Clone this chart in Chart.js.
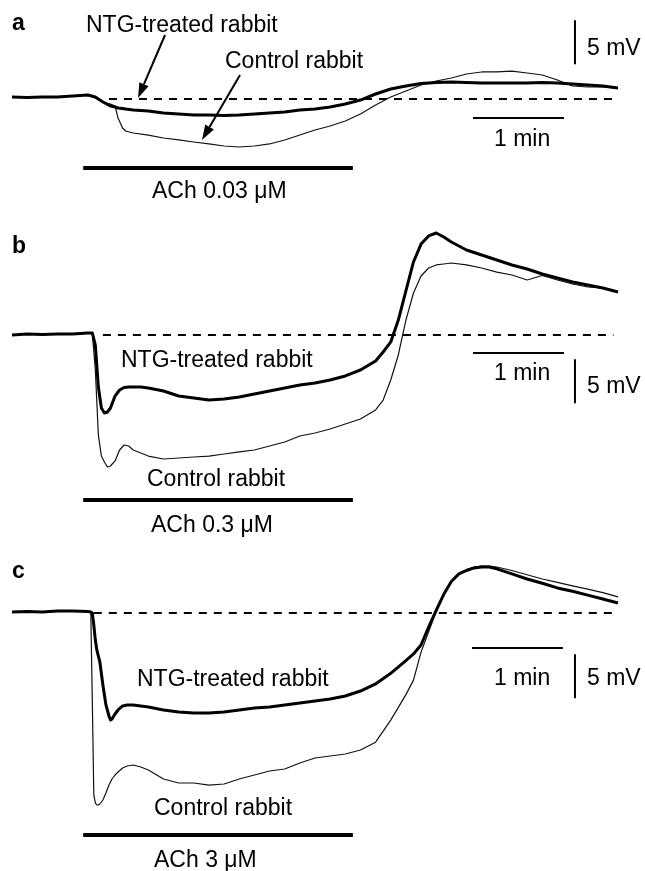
<!DOCTYPE html>
<html><head><meta charset="utf-8">
<script src="https://cdn.jsdelivr.net/npm/chart.js@4/dist/chart.umd.min.js"></script>
<style>
html,body{margin:0;padding:0;background:#fff;}
#wrap{position:relative;width:645px;height:871px;overflow:hidden;}
#c{position:absolute;left:0;top:0;}
.t{position:absolute;font-family:"Liberation Sans",Arial,sans-serif;font-size:23px;line-height:23px;color:#000;white-space:nowrap;}
.b{font-weight:bold;}
</style></head><body>
<div id="wrap">
<canvas id="c" width="645" height="871"></canvas>
<div class="t b" style="left:12px;top:10.5px">a</div>
<div class="t" style="left:86px;top:12.5px">NTG-treated rabbit</div>
<div class="t" style="left:225px;top:48.5px">Control rabbit</div>
<div class="t" style="left:152px;top:178.5px">ACh 0.03 μM</div>
<div class="t" style="left:494px;top:126.5px">1 min</div>
<div class="t" style="left:587px;top:35.5px">5 mV</div>
<div class="t b" style="left:12px;top:233.5px">b</div>
<div class="t" style="left:121px;top:347.5px">NTG-treated rabbit</div>
<div class="t" style="left:147px;top:466.5px">Control rabbit</div>
<div class="t" style="left:151px;top:512.5px">ACh 0.3 μM</div>
<div class="t" style="left:494px;top:360.5px">1 min</div>
<div class="t" style="left:587px;top:373.5px">5 mV</div>
<div class="t b" style="left:12px;top:558.5px">c</div>
<div class="t" style="left:137px;top:666.5px">NTG-treated rabbit</div>
<div class="t" style="left:154px;top:795.5px">Control rabbit</div>
<div class="t" style="left:154px;top:847.5px">ACh 3 μM</div>
<div class="t" style="left:494px;top:665.5px">1 min</div>
<div class="t" style="left:587px;top:665.5px">5 mV</div>
</div>
<script>
// ---- Data (time in s, membrane potential change in mV relative to baseline) ----
const timeA = [0,10,20,30,40,50,55,60,65,68,70,73,75,80,90,100,110,120,130,140,150,160,170,180,190,200,210,220,230,240,250,260,270,280,290,300,310,320,330,340,350,360,370,380,390,400];
const ntgA  = [0.24,0.18,0.24,0.24,0.35,0.47,0.24,-0.35,-0.82,-0.94,-1.06,-1.12,-1.18,-1.29,-1.41,-1.65,-1.76,-1.88,-1.88,-1.94,-1.88,-1.76,-1.65,-1.53,-1.29,-1.18,-0.94,-0.59,-0.12,0.59,1.18,1.53,1.82,1.94,2.0,1.94,1.88,1.88,1.88,1.88,1.94,1.88,1.76,1.65,1.53,1.29];
const ctrlA = [0.24,0.24,0.18,0.24,0.35,0.47,0.12,-0.35,-0.59,-0.82,-2.24,-3.41,-3.76,-4.0,-4.24,-4.59,-4.82,-5.06,-5.29,-5.53,-5.65,-5.53,-5.29,-4.82,-4.24,-3.65,-3.18,-2.59,-1.76,-0.71,0.24,0.94,1.65,2.12,2.47,2.94,3.18,3.18,3.29,3.06,2.82,2.24,1.53,1.41,1.41,1.29];

const timeB = [0,10,20,30,40,50,53,55,57,59,61,63,65,68,71,74,77,80,85,90,100,110,120,130,140,150,160,170,180,190,200,210,220,230,240,245,250,255,260,265,270,275,280,285,290,300,310,320,330,340,350,360,370,380,390,400];
const ntgB  = [0,0.12,0.06,0.12,0.12,0.24,0.24,-1.18,-6.12,-8.59,-9.18,-9.06,-8.59,-7.18,-6.47,-6.18,-6.12,-6.12,-6.12,-6.24,-6.59,-7.18,-7.41,-7.65,-7.53,-7.29,-6.94,-6.59,-6.24,-5.88,-5.65,-5.29,-4.82,-4.12,-3.06,-2.0,-0.82,1.76,5.18,8.59,10.7,11.65,12.0,11.53,10.94,10.0,9.41,8.82,8.24,7.76,7.18,6.71,6.24,5.88,5.53,5.06];
const ctrlB = [0,0.12,0.06,0.12,0.12,0.24,0.24,-4.12,-11.76,-14.24,-14.94,-15.53,-15.41,-14.82,-13.53,-12.94,-13.06,-13.53,-13.88,-14.24,-14.59,-14.47,-14.35,-14.24,-14.0,-13.76,-13.53,-13.06,-12.59,-11.88,-11.53,-11.06,-10.47,-9.88,-8.82,-7.65,-5.29,-2.35,1.76,4.94,6.94,7.88,8.24,8.35,8.47,8.24,7.88,7.4,7.06,6.47,7.0,6.47,6.0,5.65,5.53,5.06];

const timeC = [0,10,20,30,40,50,52,53,54,55,56,57,58,60,62,64,65,66,68,70,73,76,80,85,90,100,110,120,130,140,150,160,170,180,190,200,210,220,230,240,250,260,265,270,275,280,285,290,295,300,305,310,315,320,330,340,350,360,370,380,390,400];
const ntgC  = [0.12,0.18,0.12,0.24,0.24,0.18,0.12,0,-1.41,-3.18,-4.35,-5.06,-5.76,-8.47,-10.82,-12.12,-12.59,-12.47,-11.88,-11.41,-10.94,-10.82,-10.82,-10.94,-11.06,-11.41,-11.65,-11.76,-11.76,-11.65,-11.41,-11.18,-11.06,-10.82,-10.59,-10.35,-10.12,-9.76,-9.18,-8.35,-7.1,-5.6,-4.82,-3.76,-1.65,0.3,2.2,3.7,4.6,5.0,5.3,5.41,5.41,5.2,4.6,4.0,3.5,2.95,2.55,2.1,1.65,1.18];
const ctrlC = [0.12,0.18,0.12,0.24,0.24,0.18,0.12,-10.24,-21.41,-22.35,-22.59,-22.59,-22.47,-22.0,-21.18,-20.24,-19.88,-19.53,-19.06,-18.71,-18.24,-18.0,-17.88,-18.12,-18.47,-19.53,-20.0,-20.0,-20.24,-20.12,-19.53,-19.06,-18.59,-18.35,-17.65,-17.06,-16.82,-16.59,-16.12,-15.2,-12.6,-9.6,-7.9,-4.6,-2.2,0.2,2.2,3.75,4.7,5.1,5.41,5.53,5.53,5.41,5.0,4.5,4.0,3.6,3.2,2.8,2.4,1.9];

// ACh application period (s)
const achPeriod = [47, 225];

// ---- Layout / style (not data) ----
const PX_PER_S = 1.515, X0 = 12, W = 645, H = 871, PX_PER_MV = 8.5;
const BASE = {ya: 99, yb: 335, yc: 613};
function yScale(base){ return {type:'linear', display:false, min:(base-H)/PX_PER_MV, max:base/PX_PER_MV}; }

function pts(times, vals){ return times.map((t,i)=>({x:t, y:vals[i]})); }
function ds(data, axis, width, extra){
  return Object.assign({data, yAxisID:axis, borderColor:'#000', borderWidth:width, pointRadius:0,
    fill:false, tension:0, clip:false, borderJoinStyle:'round', borderCapStyle:'butt'}, extra||{});
}
const dash = {borderDash:[8,7]};
const panels = [
  {axis:'ya', t:timeA, ntg:ntgA, ctrl:ctrlA, dashX:[64,399], achY:-8.12, minY:-2.24, minX:304.3, mvX:371.6, mvY:9.18},
  {axis:'yb', t:timeB, ntg:ntgB, ctrl:ctrlB, dashX:[60,397], achY:-19.41, minY:-2.12, minX:304.3, mvX:371.6, mvY:-2.94},
  {axis:'yc', t:timeC, ntg:ntgC, ctrl:ctrlC, dashX:[54,397], achY:-26.12, minY:-4.12, minX:303.6, mvX:371.6, mvY:-4.94}
];
const datasets = [];
for (const p of panels){
  datasets.push(ds(pts(p.t, p.ntg), p.axis, 3));
  datasets.push(ds(pts(p.t, p.ctrl), p.axis, 1.2, {borderColor:'#111'}));
  datasets.push(ds([{x:p.dashX[0],y:0},{x:p.dashX[1],y:0}], p.axis, 1.8, dash));
  datasets.push(ds([{x:achPeriod[0],y:p.achY},{x:achPeriod[1],y:p.achY}], p.axis, 4));
  datasets.push(ds([{x:p.minX,y:p.minY},{x:p.minX+60,y:p.minY}], p.axis, 2));
  datasets.push(ds([{x:p.mvX,y:p.mvY},{x:p.mvX,y:p.mvY-5}], p.axis, 2));
}

// arrows in panel a (data coords)
const ARROWS = [ {from:[101,7.53], to:[83.2,0.12]}, {from:[150.5,2.82], to:[125.4,-4.82]} ];
const arrowPlugin = {
  id:'arrows',
  afterDatasetsDraw(chart){
    const ctx = chart.ctx, xs = chart.scales.x, ys = chart.scales.ya;
    ctx.save(); ctx.strokeStyle='#000'; ctx.fillStyle='#000'; ctx.lineWidth=2;
    for (const a of ARROWS){
      const x1=xs.getPixelForValue(a.from[0]), y1=ys.getPixelForValue(a.from[1]);
      const x2=xs.getPixelForValue(a.to[0]), y2=ys.getPixelForValue(a.to[1]);
      const ang=Math.atan2(y2-y1,x2-x1), L=15, Wd=5;
      const bx=x2-L*Math.cos(ang), by=y2-L*Math.sin(ang);
      ctx.beginPath(); ctx.moveTo(x1,y1); ctx.lineTo(bx,by); ctx.stroke();
      ctx.beginPath(); ctx.moveTo(x2,y2);
      ctx.lineTo(bx+Wd*Math.sin(ang), by-Wd*Math.cos(ang));
      ctx.lineTo(bx-Wd*Math.sin(ang), by+Wd*Math.cos(ang));
      ctx.closePath(); ctx.fill();
    }
    ctx.restore();
  }
};

new Chart(document.getElementById('c'), {
  type:'line',
  data:{datasets},
  options:{
    responsive:false, animation:false, devicePixelRatio:1,
    layout:{padding:0},
    plugins:{legend:{display:false}, tooltip:{enabled:false}, title:{display:false}},
    scales:{
      x:{type:'linear', display:false, min:-X0/PX_PER_S, max:(W-X0)/PX_PER_S},
      ya:yScale(BASE.ya), yb:yScale(BASE.yb), yc:yScale(BASE.yc)
    }
  },
  plugins:[arrowPlugin]
});
</script>
</body></html>
